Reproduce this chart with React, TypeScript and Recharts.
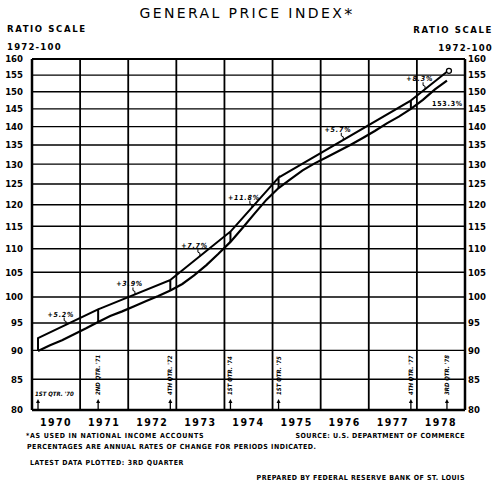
import { Line, LineChart, ReferenceDot, ReferenceLine, XAxis, YAxis } from "recharts"

// quarterly GNP implicit price deflator, 1972=100
const quarterLabels = [
  "1970 Q1", "1970 Q2", "1970 Q3", "1970 Q4",
  "1971 Q1", "1971 Q2", "1971 Q3", "1971 Q4",
  "1972 Q1", "1972 Q2", "1972 Q3", "1972 Q4",
  "1973 Q1", "1973 Q2", "1973 Q3", "1973 Q4",
  "1974 Q1", "1974 Q2", "1974 Q3", "1974 Q4",
  "1975 Q1", "1975 Q2", "1975 Q3", "1975 Q4",
  "1976 Q1", "1976 Q2", "1976 Q3", "1976 Q4",
  "1977 Q1", "1977 Q2", "1977 Q3", "1977 Q4",
  "1978 Q1", "1978 Q2", "1978 Q3",
]
const priceIndex = [
  89.9, 90.9, 91.8, 92.9,
  94.0, 95.2, 96.3, 97.2,
  98.2, 99.2, 100.2, 101.3,
  102.6, 104.4, 106.5, 108.9,
  111.5, 114.6, 117.9, 121.2,
  124.0, 126.2, 128.4, 130.2,
  131.8, 133.4, 135.1, 136.9,
  138.8, 140.9, 142.8, 145.0,
  147.6, 150.7, 153.3,
]

const yearLabels = ["1970", "1971", "1972", "1973", "1974", "1975", "1976", "1977", "1978"]
const ratioTicks = [80, 85, 90, 95, 100, 105, 110, 115, 120, 125, 130, 135, 140, 145, 150, 155, 160]

// trend segments drawn above the series
const trendBreaks = ["1970 Q1", "1971 Q2", "1972 Q4", "1974 Q1", "1975 Q1", "1977 Q4", "1978 Q3"]
const trendLevels = [92.2, 97.6, 103.4, 113.8, 126.6, 147.4, 156.0]
const trendRates = ["+5.2%", "+3.9%", "+7.7%", "+11.8%", "+5.7%", "+8.3%"]
const rateAnchors = [
  [1970.71, 94.7],
  [1972.14, 100.5],
  [1973.49, 108.4],
  [1974.57, 119.3],
  [1976.47, 136.4],
  [1978.17, 150.7],
]
const markerLabels = ["1ST QTR. '70", "2ND QTR. '71", "4TH QTR. '72", "1ST QTR. '74", "1ST QTR. '75", "4TH QTR. '77", "3RD QTR. '78"]
const latestLabel = "153.3%"

const toDate = (q: string) => {
  const [y, n] = q.split(" Q")
  return Number(y) + (Number(n) - 0.5) / 4
}

const seriesData = quarterLabels.map((q, i) => ({ x: toDate(q), v: priceIndex[i] }))

const trendData: { x: number; v: number }[] = []
trendBreaks.forEach((b, i) => {
  const x = toDate(b)
  const base = priceIndex[quarterLabels.indexOf(b)]
  const lvl = trendLevels[i]
  if (i === 0) {
    trendData.push({ x, v: base }, { x, v: lvl })
  } else if (i === trendBreaks.length - 1) {
    trendData.push({ x, v: lvl })
  } else {
    trendData.push({ x, v: lvl }, { x, v: base }, { x, v: lvl })
  }
})

const FONT = "'DejaVu Sans Condensed', 'DejaVu Sans', sans-serif"

function App() {
  return (
    <div style={{ position: "absolute", left: 0, top: 0, width: 493, height: 482, background: "#fff" }}>
      <LineChart
        width={493}
        height={482}
        data={seriesData}
        margin={{ top: 59, right: 0, left: 0, bottom: 42 }}
      >
        <XAxis
          dataKey="x"
          type="number"
          domain={[1970, 1979]}
          allowDataOverflow
          ticks={yearLabels.map((y) => Number(y) + 0.5)}
          tickFormatter={(v) => String(Math.floor(v))}
          axisLine={false}
          tickLine={false}
          tickSize={0}
          tickMargin={9}
          height={30}
          tick={{ fill: "#000", fontSize: 10.5, fontWeight: 700, fontFamily: FONT, letterSpacing: 1.5 }}
        />
        <YAxis
          yAxisId="l"
          scale="log"
          domain={[80, 160]}
          allowDataOverflow
          ticks={ratioTicks}
          interval={0}
          width={32}
          axisLine={false}
          tickLine={false}
          tickSize={0}
          tickMargin={9}
          tick={{ fill: "#000", fontSize: 9.5, fontWeight: 700, fontFamily: FONT }}
        />
        <YAxis
          yAxisId="r"
          orientation="right"
          scale="log"
          domain={[80, 160]}
          allowDataOverflow
          ticks={ratioTicks}
          interval={0}
          width={28}
          axisLine={false}
          tickLine={false}
          tickSize={0}
          tickMargin={3}
          tick={{ fill: "#000", fontSize: 9.5, fontWeight: 700, fontFamily: FONT }}
        />

        {ratioTicks.slice(1, -1).map((t) => (
          <ReferenceLine key={"h" + t} yAxisId="l" y={t} stroke="#000" strokeWidth={1.4} />
        ))}
        {yearLabels.slice(1).map((y) => (
          <ReferenceLine key={"v" + y} yAxisId="l" x={Number(y)} stroke="#000" strokeWidth={1.8} />
        ))}
        <ReferenceLine yAxisId="l" y={80} stroke="#000" strokeWidth={2.5} />
        <ReferenceLine yAxisId="l" y={160} stroke="#000" strokeWidth={2} />
        <ReferenceLine yAxisId="l" x={1970} stroke="#000" strokeWidth={2.5} />
        <ReferenceLine yAxisId="l" x={1979} stroke="#000" strokeWidth={2.5} />

        <Line
          yAxisId="l"
          dataKey="v"
          stroke="#000"
          strokeWidth={2.2}
          dot={false}
          type="linear"
          isAnimationActive={false}
        />
        <Line
          yAxisId="l"
          data={trendData}
          dataKey="v"
          stroke="#000"
          strokeWidth={2}
          type="linear"
          isAnimationActive={false}
          dot={(p: any) =>
            p.index === trendData.length - 1 ? (
              <circle key="end" cx={p.cx + 2} cy={p.cy - 1} r={2.5} fill="#fff" stroke="#000" strokeWidth={1.3} />
            ) : (
              <g key={"d" + p.index} />
            )
          }
        />

        {trendRates.map((r, i) => (
          <ReferenceDot
            key={r}
            yAxisId="l"
            x={rateAnchors[i][0]}
            y={rateAnchors[i][1]}
            r={0}
            shape={(p: any) => (
              <g>
                <path
                  d={`M${p.cx},${p.cy} l0,-3 l-2,-1 l0,-3`}
                  stroke="#000"
                  strokeWidth={1}
                  fill="none"
                />
                <text
                  x={p.cx + 8}
                  y={p.cy - 8}
                  textAnchor="end"
                  fontSize={7}
                  fontWeight={700}
                  fontStyle="italic"
                  fontFamily={FONT}
                  letterSpacing={0.8}
                >
                  {r}
                </text>
              </g>
            )}
          />
        ))}

        {trendBreaks.map((b, i) => (
          <ReferenceDot
            key={"m" + b}
            yAxisId="l"
            x={toDate(b)}
            y={80}
            r={0}
            shape={(p: any) => (
              <g>
                <line x1={p.cx} y1={p.cy} x2={p.cx} y2={p.cy - 8} stroke="#000" strokeWidth={1.3} />
                <path d={`M${p.cx - 2},${p.cy - 7} L${p.cx},${p.cy - 11} L${p.cx + 2},${p.cy - 7} Z`} fill="#000" />
                {i === 0 ? (
                  <text x={p.cx - 3} y={p.cy - 14} fontSize={6} fontWeight={700} fontStyle="italic" fontFamily={FONT}>
                    {markerLabels[i]}
                  </text>
                ) : (
                  <text
                    transform={`translate(${p.cx + 2}, ${p.cy - 15}) rotate(-90)`}
                    fontSize={6}
                    fontWeight={700}
                    fontStyle="italic"
                    fontFamily={FONT}
                  >
                    {markerLabels[i]}
                  </text>
                )}
              </g>
            )}
          />
        ))}

        <ReferenceDot
          yAxisId="l"
          x={toDate("1978 Q3")}
          y={priceIndex[priceIndex.length - 1]}
          r={0}
          shape={(p: any) => (
            <text x={p.cx - 15} y={p.cy + 25} fontSize={7} fontWeight={700} fontFamily={FONT} letterSpacing={0.8}>
              {latestLabel}
            </text>
          )}
        />
      </LineChart>

      <svg
        width={493}
        height={482}
        style={{ position: "absolute", left: 0, top: 0, pointerEvents: "none" }}
        fontFamily={FONT}
      >
        <text x={247} y={18} textAnchor="middle" fontSize={14} letterSpacing={2.4} fontFamily="'DejaVu Sans', sans-serif">
          GENERAL PRICE INDEX<tspan fontSize={16} dy={2}>*</tspan>
        </text>
        <text x={7} y={32} fontSize={9.5} fontWeight={700} letterSpacing={1.6}>RATIO SCALE</text>
        <text x={7} y={50} fontSize={9.5} fontWeight={700} letterSpacing={1.2}>1972-100</text>
        <text x={493} y={33} textAnchor="end" fontSize={9.5} fontWeight={700} letterSpacing={1.6}>RATIO SCALE</text>
        <text x={493} y={51} textAnchor="end" fontSize={9.5} fontWeight={700} letterSpacing={1.2}>1972-100</text>

        <text x={26} y={438} fontSize={7} fontWeight={700} letterSpacing={0.7}>*AS USED IN NATIONAL INCOME ACCOUNTS</text>
        <text x={465} y={438} textAnchor="end" fontSize={7} fontWeight={700} letterSpacing={0.5}>SOURCE: U.S. DEPARTMENT OF COMMERCE</text>
        <text x={27} y={449} fontSize={7} fontWeight={700} letterSpacing={0.5}>PERCENTAGES ARE ANNUAL RATES OF CHANGE FOR PERIODS INDICATED.</text>
        <text x={30} y={465} fontSize={7} fontWeight={700} letterSpacing={0.6}>LATEST DATA PLOTTED: 3RD QUARTER</text>
        <text x={465} y={480} textAnchor="end" fontSize={7} fontWeight={700} letterSpacing={0.5}>PREPARED BY FEDERAL RESERVE BANK OF ST. LOUIS</text>
      </svg>
    </div>
  )
}

export default App
